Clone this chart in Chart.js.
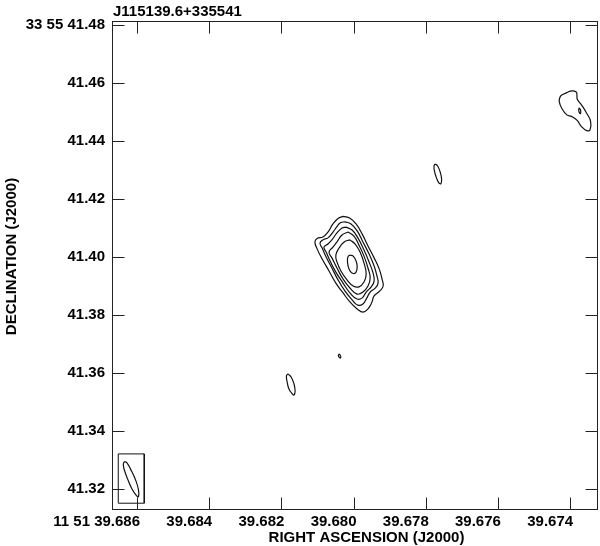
<!DOCTYPE html>
<html>
<head>
<meta charset="utf-8">
<script src="https://cdn.jsdelivr.net/npm/chart.js@4.4.0/dist/chart.umd.min.js"></script>
<style>
  html, body { margin: 0; padding: 0; background: #fff; }
  #wrap { width: 600px; height: 546px; }
</style>
</head>
<body>
<div id="wrap"><canvas id="mapChart"></canvas></div>
<script>
// axes: RA seconds (11 51 ..) and Dec arcsec (33 55 ..)
var raTicks = [39.686, 39.684, 39.682, 39.680, 39.678, 39.676, 39.674];
var raLabels = ["11 51 39.686", "39.684", "39.682", "39.680", "39.678", "39.676", "39.674"];
var decTicks = [41.48, 41.46, 41.44, 41.42, 41.40, 41.38, 41.36, 41.34, 41.32];
var decLabels = ["33 55 41.48", "41.46", "41.44", "41.42", "41.40", "41.38", "41.36", "41.34", "41.32"];

// main component, contour levels from outside in
var core1 = [[39.68029,41.4140],[39.68010,41.4134],[39.67993,41.4114],[39.67976,41.4079],[39.67960,41.4038],
  [39.67943,41.3997],[39.67929,41.3959],[39.67921,41.3924],[39.67918,41.3900],[39.67927,41.3883],[39.67943,41.3866],
  [39.67949,41.3845],[39.67960,41.3821],[39.67974,41.3810],[39.67990,41.3821],[39.68010,41.3845],[39.68029,41.3876],
  [39.68049,41.3910],[39.68068,41.3952],[39.68087,41.3993],[39.68101,41.4028],[39.68107,41.4052],[39.68101,41.4064],
  [39.68085,41.4069],[39.68071,41.4086],[39.68057,41.4114],[39.68043,41.4133]];
var core2 = [[39.68024,41.4121],[39.68007,41.4114],[39.67990,41.4090],[39.67974,41.4052],[39.67957,41.4010],
  [39.67943,41.3969],[39.67935,41.3934],[39.67932,41.3910],[39.67940,41.3893],[39.67954,41.3879],[39.67963,41.3859],
  [39.67974,41.3838],[39.67988,41.3834],[39.68004,41.3852],[39.68024,41.3883],[39.68043,41.3921],[39.68060,41.3962],
  [39.68076,41.4000],[39.68087,41.4031],[39.68093,41.4048],[39.68085,41.4059],[39.68071,41.4066],[39.68057,41.4086],
  [39.68043,41.4110],[39.68035,41.4119]];
var core3 = [[39.68021,41.4103],[39.68004,41.4093],[39.67988,41.4066],[39.67971,41.4024],[39.67957,41.3983],
  [39.67946,41.3945],[39.67943,41.3917],[39.67951,41.3897],[39.67965,41.3879],[39.67976,41.3859],[39.67990,41.3855],
  [39.68010,41.3876],[39.68029,41.3910],[39.68049,41.3948],[39.68065,41.3986],[39.68076,41.4017],[39.68082,41.4034],
  [39.68071,41.4045],[39.68060,41.4059],[39.68046,41.4083],[39.68032,41.4100]];
var core4 = [[39.68015,41.4086],[39.67999,41.4072],[39.67985,41.4041],[39.67971,41.4003],[39.67960,41.3962],
  [39.67954,41.3928],[39.67960,41.3900],[39.67974,41.3879],[39.67990,41.3872],[39.68010,41.3893],[39.68029,41.3924],
  [39.68046,41.3962],[39.68060,41.3997],[39.68068,41.4017],[39.68057,41.4034],[39.68046,41.4052],[39.68032,41.4076]];
var core5 = [[39.68010,41.4059],[39.67996,41.4045],[39.67982,41.4017],[39.67971,41.3979],[39.67965,41.3941],
  [39.67971,41.3914],[39.67985,41.3897],[39.68001,41.3900],[39.68018,41.3921],[39.68035,41.3952],[39.68046,41.3983],
  [39.68049,41.4007],[39.68040,41.4031],[39.68026,41.4052]];
var core6 = [[39.68010,41.4007],[39.68001,41.4003],[39.67993,41.3986],[39.67990,41.3966],[39.67993,41.3948],
  [39.68001,41.3943],[39.68010,41.3952],[39.68015,41.3969],[39.68017,41.3990],[39.68015,41.4002]];

// weaker features
var blobNE = [[39.67774,41.4321],[39.67767,41.4314],[39.67760,41.4293],[39.67756,41.4269],[39.67758,41.4253],
  [39.67763,41.4255],[39.67770,41.4272],[39.67776,41.4297],[39.67777,41.4314]];
var blobSW = [[39.68182,41.3597],[39.68173,41.3586],[39.68165,41.3562],[39.68162,41.3538],[39.68165,41.3524],
  [39.68170,41.3528],[39.68179,41.3545],[39.68184,41.3569],[39.68186,41.3590]];
var blobDot = [[39.68040,41.3666],[39.68036,41.3659],[39.68036,41.3652],[39.68039,41.3653],[39.68042,41.3660]];
var edgeOuter = [[39.67423,41.4559],[39.67409,41.4567],[39.67395,41.4573],[39.67383,41.4569],[39.67381,41.4559],
  [39.67380,41.4544],[39.67368,41.4524],[39.67354,41.4496],[39.67343,41.4467],[39.67345,41.4438],[39.67354,41.4436],
  [39.67368,41.4449],[39.67381,41.4472],[39.67395,41.4484],[39.67409,41.4490],[39.67423,41.4513],[39.67430,41.4536],
  [39.67428,41.4551]];
var edgeInner = [[39.67375,41.4514],[39.67371,41.4507],[39.67371,41.4495],[39.67374,41.4497],[39.67376,41.4505]];

// restoring beam and its box
var beam = [[39.68635,41.3295],[39.68628,41.3290],[39.68617,41.3266],[39.68604,41.3231],[39.68596,41.3197],
  [39.68596,41.3174],[39.68601,41.3176],[39.68614,41.3200],[39.68626,41.3234],[39.68636,41.3269],[39.68638,41.3286]];
var beamBox = [[39.68652,41.3321],[39.68580,41.3321],[39.68580,41.3151],[39.68652,41.3151]];

var smooth = [core1, core2, core3, core4, core5, core6, blobNE, blobSW, blobDot, edgeOuter, edgeInner, beam];

function loop(pts) {
    var d = pts.map(function (p) { return {x: p[0], y: p[1]}; });
    d.push(d[0]);
    return d;
}

var datasets = smooth.map(function (pts) {
    return {data: loop(pts), showLine: true, pointRadius: 0, borderColor: '#111', borderWidth: 1.2, tension: 0.45};
});
datasets.push({data: loop(beamBox), showLine: true, pointRadius: 0, borderColor: '#111', borderWidth: 1, tension: 0});

var boldFont = {family: 'Liberation Sans', size: 15, weight: 'bold'};

Chart.register({
    id: 'frameAndTicks',
    afterDraw: function (chart) {
        var ctx = chart.ctx, a = chart.chartArea;
        var x = chart.scales.x, y = chart.scales.y;
        ctx.save();
        ctx.strokeStyle = '#222';
        ctx.lineWidth = 1;
        ctx.strokeRect(a.left, a.top, a.right - a.left, a.bottom - a.top);
        ctx.beginPath();
        x.ticks.forEach(function (t) {
            var px = Math.round(x.getPixelForValue(t.value)) + 0.5;
            ctx.moveTo(px, a.top); ctx.lineTo(px, a.top + 12);
            ctx.moveTo(px, a.bottom); ctx.lineTo(px, a.bottom - 12);
        });
        y.ticks.forEach(function (t) {
            var py = Math.round(y.getPixelForValue(t.value)) + 0.5;
            ctx.moveTo(a.left, py); ctx.lineTo(a.left + 12, py);
            ctx.moveTo(a.right, py); ctx.lineTo(a.right - 12, py);
        });
        ctx.stroke();

        ctx.fillStyle = '#000';
        ctx.font = 'bold 15px "Liberation Sans"';
        ctx.textAlign = 'left';
        ctx.textBaseline = 'alphabetic';
        ctx.fillText('J115139.6+335541', a.left + 0.5, 15.5);
        ctx.textAlign = 'center';
        ctx.fillText('RIGHT ASCENSION (J2000)', 366.5, 541.5);
        ctx.translate(15.5, 256.5);
        ctx.rotate(-Math.PI / 2);
        ctx.fillText('DECLINATION (J2000)', 0, 0);
        ctx.restore();
    }
});

var ctxM = document.getElementById('mapChart').getContext('2d');
var mapChart = new Chart(ctxM, {
    type: 'scatter',
    data: {datasets: datasets},
    options: {
        responsive: true,
        maintainAspectRatio: false,
        animation: false,
        events: [],
        layout: {padding: {top: 21.5, right: 2.5, left: 0, bottom: 0}},
        plugins: {legend: {display: false}, tooltip: {enabled: false}},
        scales: {
            x: {
                type: 'linear',
                reverse: true,
                min: 39.67324,
                max: 39.68668,
                afterBuildTicks: function (s) { s.ticks = raTicks.map(function (v) { return {value: v}; }); },
                afterFit: function (s) { s.height = 36.5; },
                grid: {display: false, drawTicks: false},
                border: {display: false},
                ticks: {
                    autoSkip: false, maxRotation: 0, align: 'end', labelOffset: 3, padding: 3.5,
                    color: '#000', font: boldFont,
                    callback: function (v, i) { return raLabels[i]; }
                }
            },
            y: {
                type: 'linear',
                min: 41.31293,
                max: 41.48121,
                afterBuildTicks: function (s) { s.ticks = decTicks.map(function (v) { return {value: v}; }); },
                afterFit: function (s) { s.width = 112.5; },
                grid: {display: false, drawTicks: false},
                border: {display: false},
                ticks: {
                    autoSkip: false, padding: 7.5,
                    color: '#000', font: boldFont,
                    callback: function (v, i) { return decLabels[i]; }
                }
            }
        }
    }
});
</script>
</body>
</html>
